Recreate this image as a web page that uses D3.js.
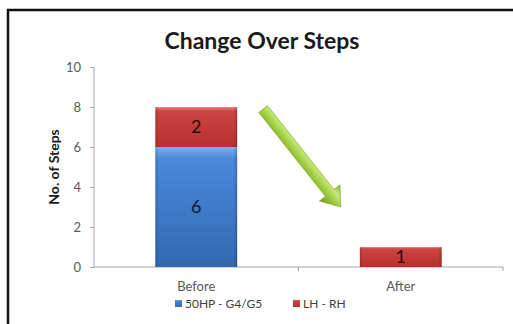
<!DOCTYPE html>
<html><head><meta charset="utf-8">
<script src="https://cdn.jsdelivr.net/npm/d3@7"></script>
<style>html,body{margin:0;padding:0;background:#fff;}svg{display:block;}</style>
</head><body>
<svg id="c" width="513" height="324"></svg>
<script>
const categories = ["Before", "After"];
const seriesNames = ["50HP - G4/G5", "LH - RH"];
const series1 = [6, 0];   // 50HP - G4/G5
const series2 = [2, 1];   // LH - RH
const yTicks = [0, 2, 4, 6, 8, 10];
const title = "Change Over Steps";
const yTitle = "No. of Steps";

const svg = d3.select("#c");
const FONT = "Lato, 'Open Sans', sans-serif";
const W = 513, H = 324;
const m = {l: 94, r: 10, t: 67, b: 57};

const defs = svg.append("defs");
function barGrad(id, c0, c1, c2) {
  const g = defs.append("linearGradient").attr("id", id).attr("x1", 0).attr("x2", 0).attr("y1", 0).attr("y2", 1);
  g.append("stop").attr("offset", "0%").attr("stop-color", c0);
  g.append("stop").attr("offset", "10%").attr("stop-color", c1);
  g.append("stop").attr("offset", "100%").attr("stop-color", c2);
}
barGrad("gBlue", "#7ab0f0", "#4a88db", "#3368b0");
barGrad("gRed", "#e58480", "#cc4440", "#b8302d");
const side = defs.append("linearGradient").attr("id", "gSide").attr("x1", 0).attr("x2", 1).attr("y1", 0).attr("y2", 0);
side.append("stop").attr("offset", "0%").attr("stop-color", "#000").attr("stop-opacity", 0.18);
side.append("stop").attr("offset", "4%").attr("stop-color", "#000").attr("stop-opacity", 0);
side.append("stop").attr("offset", "96%").attr("stop-color", "#000").attr("stop-opacity", 0);
side.append("stop").attr("offset", "100%").attr("stop-color", "#000").attr("stop-opacity", 0.22);
const ag = defs.append("linearGradient").attr("id", "gArrow").attr("x1", 0).attr("x2", 0).attr("y1", 0).attr("y2", 1);
ag.append("stop").attr("offset", "0%").attr("stop-color", "#7fb02a");
ag.append("stop").attr("offset", "30%").attr("stop-color", "#c6e87a");
ag.append("stop").attr("offset", "60%").attr("stop-color", "#9ccc3c");
ag.append("stop").attr("offset", "100%").attr("stop-color", "#6a9620");

// frame
svg.append("rect").attr("x", 8).attr("y", 10).attr("width", 540).attr("height", 340)
  .attr("fill", "none").attr("stroke", "#111").attr("stroke-width", 2.5);

const x = d3.scaleBand().domain(categories).range([m.l, W - m.r]).paddingInner(0.6).paddingOuter(0.3);
const y = d3.scaleLinear().domain([0, 10]).range([H - m.b, m.t]);

// title
svg.append("text").attr("x", 262).attr("y", 49).attr("text-anchor", "middle")
  .attr("font-family", FONT).attr("font-weight", "bold").attr("font-size", 23).attr("fill", "#1a1a1a").text(title);

// y axis
const yAxis = svg.append("g").attr("transform", `translate(${m.l},0)`)
  .call(d3.axisLeft(y).tickValues(yTicks).tickSize(4).tickPadding(9).tickFormat(d3.format("d")));
yAxis.select(".domain").attr("stroke", "#a6a6a6").attr("d", `M0,${y(10)}V${y(0)}`);
yAxis.selectAll(".tick line").attr("stroke", "#a6a6a6");
yAxis.selectAll("text").attr("font-family", FONT).attr("font-size", 13).attr("fill", "#595959");

// x axis
const xAxis = svg.append("g").attr("transform", `translate(0,${y(0)})`)
  .call(d3.axisBottom(x).tickSize(0).tickPadding(15));
xAxis.select(".domain").attr("stroke", "#a6a6a6").attr("d", `M${m.l},0H${W - m.r}`);
xAxis.selectAll("text").attr("font-family", FONT).attr("font-size", 13).attr("fill", "#595959");
// category boundary ticks
const step = x.step();
svg.append("g").selectAll("line").data([x(categories[0]) + x.bandwidth() + (step - x.bandwidth()) / 2, W - m.r])
  .join("line").attr("x1", d => d).attr("x2", d => d).attr("y1", y(0)).attr("y2", y(0) + 4)
  .attr("stroke", "#a6a6a6");

// bars
const stacked = categories.map((c, i) => ({c, s: [
  {k: 0, y0: 0, y1: series1[i], v: series1[i]},
  {k: 1, y0: series1[i], y1: series1[i] + series2[i], v: series2[i]}
]}));
const fills = ["url(#gBlue)", "url(#gRed)"];
const gb = svg.append("g");
stacked.forEach(d => {
  d.s.filter(s => s.v > 0).forEach(s => {
    const bx = x(d.c), bw = x.bandwidth(), by = y(s.y1), bh = y(s.y0) - y(s.y1);
    gb.append("rect").attr("x", bx).attr("y", by).attr("width", bw).attr("height", bh).attr("fill", fills[s.k]);
    gb.append("rect").attr("x", bx).attr("y", by).attr("width", bw).attr("height", bh).attr("fill", "url(#gSide)");
    gb.append("text").attr("x", bx + bw / 2).attr("y", (by + by + bh) / 2 + 6).attr("text-anchor", "middle")
      .attr("font-family", FONT).attr("font-size", 18).attr("fill", s.k === 1 ? "#2a0808" : "#0d1a30").text(s.v);
  });
});

// y title
svg.append("text").attr("transform", `translate(59,${(y(0) + y(10)) / 2}) rotate(-90)`)
  .attr("text-anchor", "middle").attr("font-family", FONT).attr("font-weight", "bold")
  .attr("font-size", 14).attr("fill", "#1a1a1a").text(yTitle);

// arrow (decoration) positioned from the scales
const ax0 = x(categories[0]) + x.bandwidth() + 26, ay0 = y(7.9);
const ax1 = x(categories[1]) - 19, ay1 = y(3.0);
const len = Math.hypot(ax1 - ax0, ay1 - ay0), ang = Math.atan2(ay1 - ay0, ax1 - ax0) * 180 / Math.PI;
const sw = 5.5, hw = 13, hl = 18;
svg.append("path").attr("transform", `translate(${ax0},${ay0}) rotate(${ang})`)
  .attr("d", `M0,${-sw}L${len - hl},${-sw}L${len - hl},${-hw}L${len},0L${len - hl},${hw}L${len - hl},${sw}L0,${sw}Z`)
  .attr("fill", "url(#gArrow)").attr("stroke", "#7aa526").attr("stroke-width", 0.6);

// legend
const lg = svg.append("g").attr("font-family", FONT).attr("font-size", 12).attr("fill", "#404040");
const lx = [175, 293];
seriesNames.forEach((n, i) => {
  lg.append("rect").attr("x", lx[i]).attr("y", 300).attr("width", 7).attr("height", 7).attr("fill", fills[i]);
  lg.append("text").attr("x", lx[i] + 10).attr("y", 308).text(n);
});
</script>
</body></html>
